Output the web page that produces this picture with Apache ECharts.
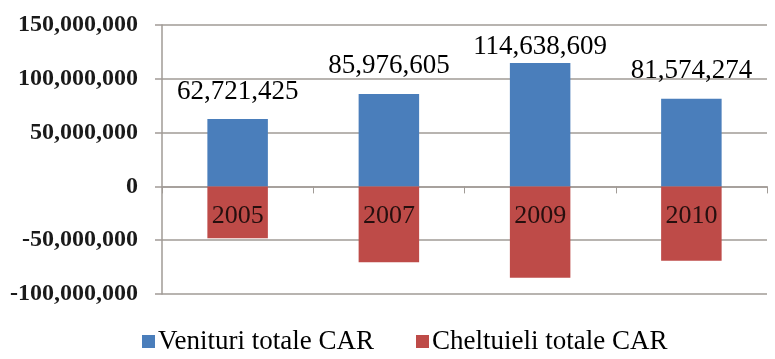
<!DOCTYPE html>
<html>
<head>
<meta charset="utf-8">
<script src="https://cdn.jsdelivr.net/npm/echarts@6/dist/echarts.min.js"></script>
<style>
  html, body { margin: 0; padding: 0; background: #ffffff; }
  #chart { width: 775px; height: 359px; }
</style>
</head>
<body>
<div id="chart"></div>
<script>
// Categories (years)
const years = ['2005', '2007', '2009', '2010'];
// Total revenues (positive) and total expenses (negative)
const venituri = [62721425, 85976605, 114638609, 81574274];
const cheltuieli = [-48300000, -70600000, -84900000, -69100000];
// Value axis ticks
const yMin = -100000000;
const yMax = 150000000;
const yStep = 50000000;

const fmt = v => Math.round(v).toLocaleString('en-US');
const serif = '"Liberation Serif", "Times New Roman", serif';
const gridColor = '#a19b96';

// the tallest bar's label is tucked closer so it stays inside the plot
const maxRevenue = Math.max(...venituri);
const revenueData = venituri.map(v => v === maxRevenue ? { value: v, label: { distance: 3 } } : v);

const chart = echarts.init(document.getElementById('chart'), null, { renderer: 'canvas' });
chart.setOption({
  animation: false,
  backgroundColor: '#ffffff',
  grid: { left: 162, right: 8, top: 25, bottom: 65 },
  legend: {
    bottom: -1,
    left: 137,
    itemWidth: 13,
    itemHeight: 13,
    itemGap: 42,
    icon: 'rect',
    textStyle: { fontFamily: serif, fontSize: 27, color: '#000000', padding: [0, 0, 0, -2] },
    data: ['Venituri totale CAR', 'Cheltuieli totale CAR']
  },
  xAxis: {
    type: 'category',
    data: years,
    boundaryGap: true,
    axisLine: { onZero: true, lineStyle: { color: gridColor, width: 1.5 } },
    axisTick: { show: true, length: 7, alignWithLabel: false, lineStyle: { color: gridColor } },
    axisLabel: { show: false }
  },
  yAxis: {
    type: 'value',
    min: yMin,
    max: yMax,
    interval: yStep,
    axisLine: { show: true, lineStyle: { color: gridColor, width: 1.5 } },
    axisTick: { show: true, length: 7, lineStyle: { color: gridColor, width: 1.5 } },
    splitLine: { show: true, lineStyle: { color: gridColor, width: 1.5 } },
    axisLabel: {
      fontFamily: serif, fontSize: 24, fontWeight: 'bold', color: '#1a1a1a', margin: 24,
      formatter: v => fmt(v)
    }
  },
  series: [
    {
      name: 'Venituri totale CAR',
      type: 'bar',
      stack: 'car',
      barWidth: '40%',
      data: revenueData,
      itemStyle: { color: '#4a7ebb' },
      label: {
        show: true, position: 'top', distance: 14,
        fontFamily: serif, fontSize: 27, color: '#000000',
        formatter: p => fmt(p.value)
      }
    },
    {
      name: 'Cheltuieli totale CAR',
      type: 'bar',
      stack: 'car',
      barWidth: '40%',
      data: cheltuieli,
      itemStyle: { color: '#be4b48' }
    },
    {
      // category names sitting just under the zero line
      name: 'categoryLabels',
      type: 'scatter',
      data: years.map(y => [y, 0]),
      symbolSize: 0,
      silent: true,
      z: 10,
      label: {
        show: true, position: 'bottom', distance: 17,
        fontFamily: serif, fontSize: 26, color: '#000000',
        formatter: p => p.value[0]
      }
    }
  ]
});
</script>
</body>
</html>
